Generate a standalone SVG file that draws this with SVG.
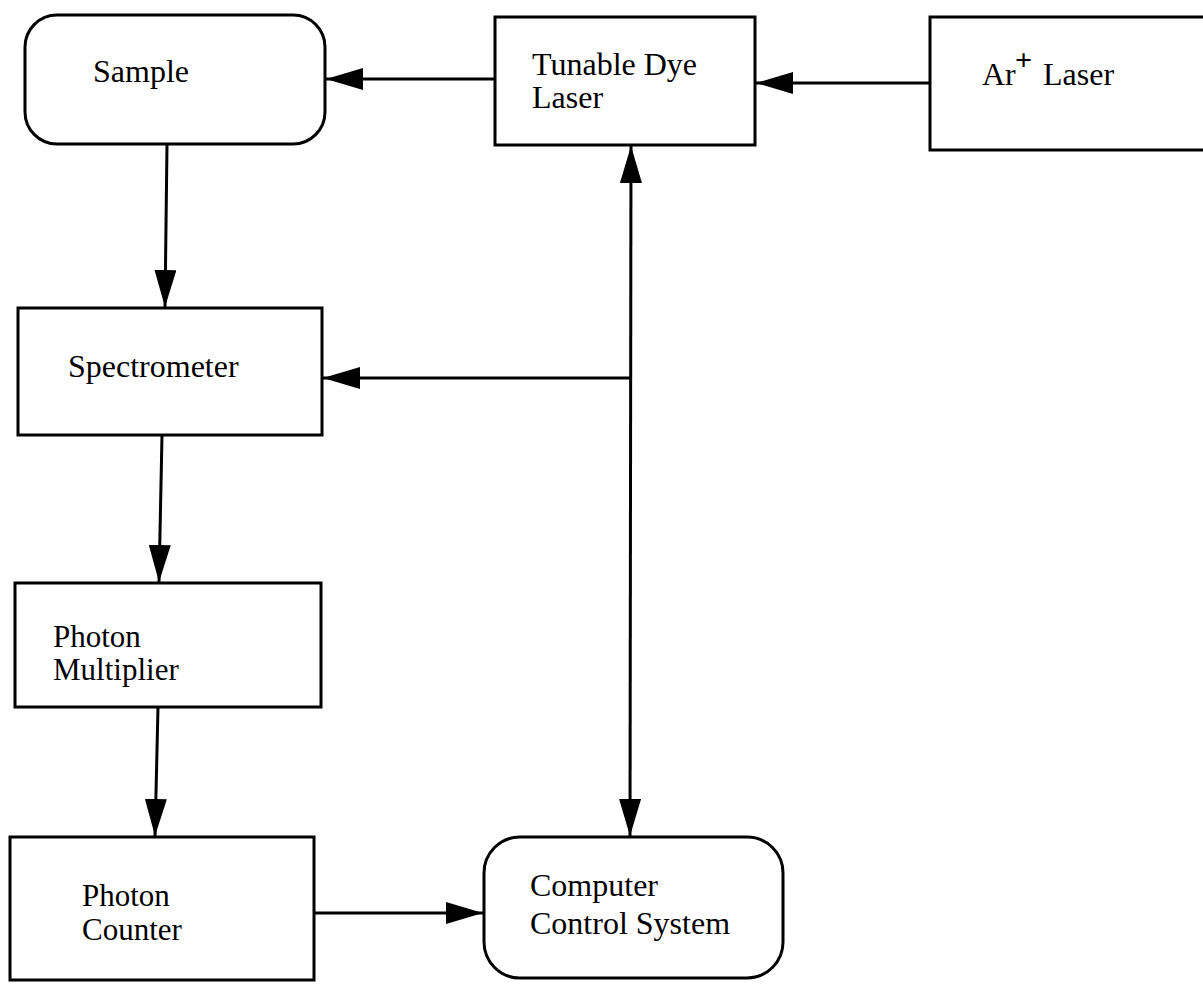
<svg xmlns="http://www.w3.org/2000/svg" width="1203" height="987" viewBox="0 0 1203 987">
<style>
.box{fill:#fff;stroke:#000;stroke-width:3}
.t{font-family:"Liberation Serif","Times New Roman",serif;font-size:32px;fill:#000}
.s{font-family:"Liberation Serif","Times New Roman",serif;font-size:31px;fill:#000}
.c{stroke:#000;stroke-width:3;fill:none;marker-end:url(#ah)}
</style>
<defs>
<marker id="ah" markerUnits="userSpaceOnUse" markerWidth="38" markerHeight="22" refX="37" refY="11" orient="auto-start-reverse">
<path d="M0,0 L37,11 L0,22 z" fill="#000"/>
</marker>
</defs>
<rect width="1203" height="987" fill="#fff"/>
<g id="connectors">
<line class="c" x1="930" y1="83" x2="756" y2="83"/>
<line class="c" x1="495" y1="79" x2="326" y2="79"/>
<line class="c" x1="167" y1="144" x2="165" y2="307"/>
<line class="c" x1="630" y1="378" x2="323" y2="378"/>
<line class="c" x1="631" y1="146" x2="630" y2="836" style="marker-start:url(#ah)"/>
<line class="c" x1="162" y1="435" x2="159" y2="582"/>
<line class="c" x1="158" y1="707" x2="155" y2="836"/>
<line class="c" x1="314" y1="913" x2="483" y2="913"/>
</g>
<g id="sample">
<rect class="box" x="25" y="15" width="300" height="129" rx="32" ry="32"/>
<text class="t" x="93" y="82">Sample</text>
</g>
<g id="tunable-dye-laser">
<rect class="box" x="495" y="17" width="260" height="128"/>
<text class="t" x="532" y="75">Tunable Dye</text>
<text class="t" x="532" y="108">Laser</text>
</g>
<g id="ar-laser">
<rect class="box" x="930" y="17" width="290" height="133"/>
<text class="t" x="982" y="85">Ar<tspan x="1015" y="70" font-size="30" font-weight="bold">+</tspan><tspan x="1043" y="85">Laser</tspan></text>
</g>
<g id="spectrometer">
<rect class="box" x="18" y="308" width="304" height="127"/>
<text class="t" x="68" y="377">Spectrometer</text>
</g>
<g id="photon-multiplier">
<rect class="box" x="15" y="583" width="306" height="124"/>
<text class="s" x="53" y="647">Photon</text>
<text class="s" x="53" y="680">Multiplier</text>
</g>
<g id="photon-counter">
<rect class="box" x="10" y="837" width="304" height="143"/>
<text class="s" x="82" y="906">Photon</text>
<text class="s" x="82" y="940">Counter</text>
</g>
<g id="computer-control-system">
<rect class="box" x="484" y="837" width="299" height="141" rx="36" ry="36"/>
<text class="t" x="530" y="896">Computer</text>
<text class="t" x="530" y="934">Control System</text>
</g>
</svg>
